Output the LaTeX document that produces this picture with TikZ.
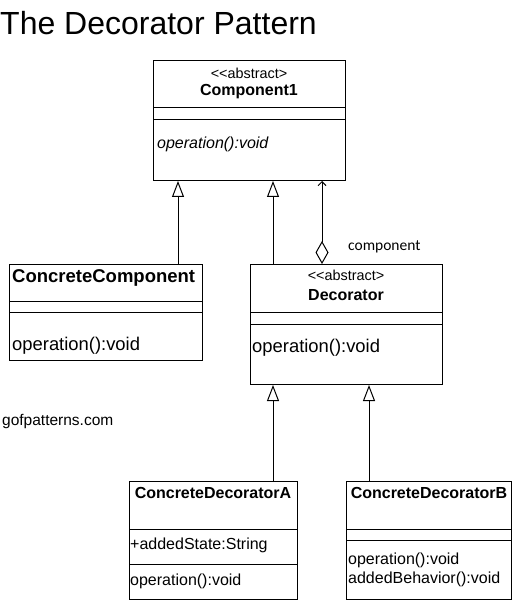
\documentclass[tikz,border=0pt]{standalone}
\usepackage{fontspec}
\setmainfont{Liberation Sans}
\newfontfamily\rolefont{Carlito}
\usepackage{tikz}
\usetikzlibrary{arrows.meta}
\newcommand{\linecolor}{black}
\newcommand{\lw}{1pt}
\newcommand{\fs}[1]{\fontsize{#1}{#1}\selectfont}

\tikzset{
  classbox/.style={draw=\linecolor, line width=\lw, rectangle, anchor=north west, inner sep=0pt},
  txt/.style={inner sep=0pt, anchor=west},
  stereo/.style={inner sep=0pt, font=\fs{14.4}},
  cname/.style={inner sep=0pt, font=\fs{16}\bfseries},
  inherit/.style={draw=\linecolor, line width=\lw, -{Triangle[open,length=16pt,width=12pt]}},
  aggr/.style={draw=\linecolor, line width=\lw, {Diamond[open,length=23pt,width=13pt]}-{Straight Barb[length=4pt,width=8pt]}},
}

\begin{document}
\begin{tikzpicture}[x=1pt, y=-1pt]
\useasboundingbox (0,0) rectangle (514,601);
\node[txt, font=\fs{32}] (title) at (0,23) {The Decorator Pattern};
%Component1
\node[classbox, minimum width=192pt, minimum height=120pt] (comp) at (153,60) {};
\draw[line width=\lw] (comp.west |- 0,108) -- (comp.east |- 0,108);
\draw[line width=\lw] (comp.west |- 0,120) -- (comp.east |- 0,120);
\node[stereo] (compst) at (249,73) {<{}<abstract>};
\node[cname] (compname) at (249,92) {Component1};
\node[txt, font=\fs{16}\itshape] (compop) at (157,144) {operation():void};
%ConcreteComponent
\node[classbox, minimum width=193pt, minimum height=96pt] (cc) at (9,264) {};
\draw[line width=\lw] (cc.west |- 0,301) -- (cc.east |- 0,301);
\draw[line width=\lw] (cc.west |- 0,312) -- (cc.east |- 0,312);
\node[txt, font=\fs{18.5}\bfseries] (ccname) at (12,278) {ConcreteComponent};
\node[txt, font=\fs{18.4}] (ccop) at (12,346) {operation():void};
%Decorator
\node[classbox, minimum width=192pt, minimum height=120pt] (dec) at (250,264) {};
\draw[line width=\lw] (dec.west |- 0,312) -- (dec.east |- 0,312);
\draw[line width=\lw] (dec.west |- 0,324) -- (dec.east |- 0,324);
\node[stereo] (decst) at (346,275) {<{}<abstract>};
\node[cname] (decname) at (346,295) {Decorator};
\node[txt, font=\fs{18.4}] (decop) at (252,348) {operation():void};
%ConcreteDecoratorA
\node[classbox, minimum width=168pt, minimum height=118pt] (cda) at (129,481) {};
\draw[line width=\lw] (cda.west |- 0,529) -- (cda.east |- 0,529);
\draw[line width=\lw] (cda.west |- 0,564) -- (cda.east |- 0,564);
\node[cname] (cdaname) at (213,493) {ConcreteDecoratorA};
\node[txt, font=\fs{16}] (cdaattr) at (130,545) {+addedState:String};
\node[txt, font=\fs{16}] (cdaop) at (130,581) {operation():void};
%ConcreteDecoratorB
\node[classbox, minimum width=165pt, minimum height=118pt] (cdb) at (346,481) {};
\draw[line width=\lw] (cdb.west |- 0,529) -- (cdb.east |- 0,529);
\draw[line width=\lw] (cdb.west |- 0,540) -- (cdb.east |- 0,540);
\node[cname] (cdbname) at (429,493) {ConcreteDecoratorB};
\node[txt, font=\fs{16}] (cdbop) at (348,560) {operation():void};
\node[txt, font=\fs{16}] (cdbbeh) at (348,579) {addedBehavior():void};
%links
\draw[inherit] (178,0 |- cc.north) -- (178,0 |- comp.south);
\draw[inherit] (273,0 |- dec.north) -- (273,0 |- comp.south);
\draw[aggr] (322,0 |- dec.north) -- (322,0 |- comp.south);
\node[txt, font=\rolefont\fs{15.5}] (role) at (348,247) {component};
\draw[inherit] (273,0 |- cda.north) -- (273,0 |- dec.south);
\draw[inherit] (369,0 |- cdb.north) -- (369,0 |- dec.south);
\node[txt, font=\fs{15.5}] (site) at (2,421) {gofpatterns.com};
\end{tikzpicture}
\end{document}
